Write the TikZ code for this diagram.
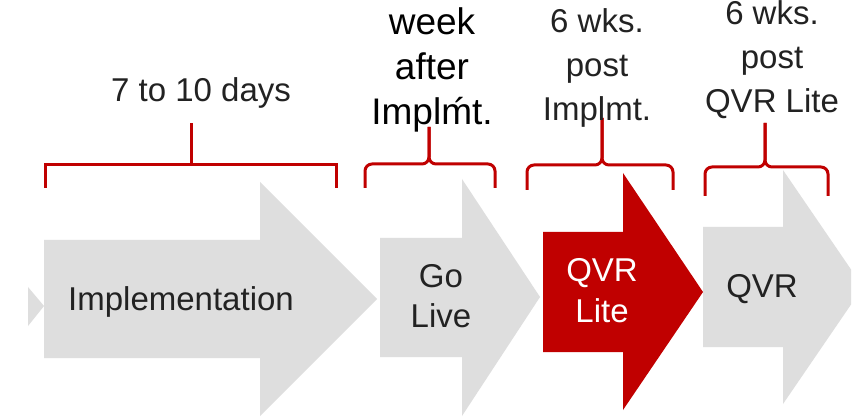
\documentclass[tikz,border=0pt]{standalone}
\usepackage{fontspec}
\setmainfont{Liberation Sans}
\definecolor{arrowgray}{HTML}{DEDEDE}
\definecolor{accentred}{HTML}{C00000}
\definecolor{textgray}{HTML}{222222}
\begin{document}
\begin{tikzpicture}[x=1pt,y=-1pt,
  shaft/.style={fill=arrowgray, draw=none},
  hotshaft/.style={fill=accentred, draw=none},
  curlybrace/.style={draw=accentred, line width=3pt, rounded corners=7pt},
  squarebrace/.style={draw=accentred, line width=3pt},
  lbl/.style={inner sep=0pt, text=textgray, font=\fontsize{33}{44}\selectfont, align=center, anchor=base},
  biglbl/.style={inner sep=0pt, text=black, font=\fontsize{37}{45}\selectfont, align=center, anchor=base},
  steplbl/.style={inner sep=0pt, text=textgray, font=\fontsize{33}{40}\selectfont, align=center, anchor=base},
  hotlbl/.style={inner sep=0pt, text=white, font=\fontsize{33}{40}\selectfont, align=center, anchor=base}]
\path[use as bounding box] (0,0) rectangle (861,419);
\clip (0,0) rectangle (861,419);
\fill[white] (0,0) rectangle (861,419);
% arrows
\fill[shaft] (28,287) -- (44,306) -- (28,326) -- cycle;
\fill[shaft] (44,240) -- (260,240) -- (260,182) -- (377,299) -- (260,416) -- (260,358) -- (44,358) -- cycle;
\fill[shaft] (380,238) -- (462,238) -- (462,179) -- (540,297) -- (462,416) -- (462,357) -- (380,357) -- cycle;
\fill[hotshaft] (543,232) -- (623,232) -- (623,173) -- (703,292) -- (623,410) -- (623,352) -- (543,352) -- cycle;
\begin{scope}
\clip (0,0) rectangle (851,419);
\fill[shaft] (703,227) -- (783,227) -- (783,170) -- (863,287) -- (783,404) -- (783,347) -- (703,347) -- cycle;
\end{scope}
% arrow texts
\node[steplbl] (impl) at (181,310) {Implementation};
\node[steplbl] (golive) at (441,327) {Go\\Live};
\node[hotlbl] (qvrlite) at (602,322) {QVR\\Lite};
\node[steplbl] (qvr) at (762,298) {QVR};
% brackets
\draw[squarebrace] (45,188) -- (45,165) -- (336,165) -- (336,188);
\draw[squarebrace] (191,165) -- (191,123);
\draw[curlybrace] (365,188) -- (365,164) -- (429,164) -- (429,127);
\draw[curlybrace] (495,188) -- (495,164) -- (429,164) -- (429,127);
\draw[curlybrace] (527,190) -- (527,165) -- (602,165) -- (602,118);
\draw[curlybrace] (673,190) -- (673,165) -- (602,165) -- (602,118);
\draw[curlybrace] (705,196) -- (705,167) -- (765,167) -- (765,123);
\draw[curlybrace] (828,196) -- (828,167) -- (765,167) -- (765,123);
% labels
\node[lbl] (days) at (201,102) {7 to 10 days};
\node[biglbl] (week) at (432,125) {week\\after\\Implḿt.};
\node[lbl] (post1) at (597,121) {6 wks.\\post\\Implmt.};
\node[lbl] (post2) at (772,113) {6 wks.\\post\\QVR Lite};
\end{tikzpicture}
\end{document}
